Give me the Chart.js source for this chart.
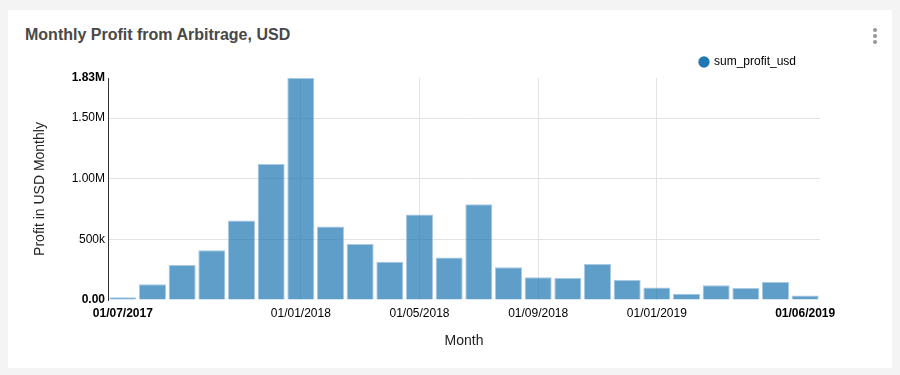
<!DOCTYPE html>
<html>
<head>
<meta charset="utf-8">
<script src="https://cdn.jsdelivr.net/npm/chart.js@4.4.0/dist/chart.umd.min.js"></script>
<style>
  body { margin: 0; background: #f4f4f4; font-family: "Liberation Sans", Arial, sans-serif; }
  #card { position: absolute; left: 8px; top: 10px; width: 884px; height: 358px; background: #fff; }
  #title { position: absolute; left: 25px; top: 26px; font-size: 16px; font-weight: bold; color: #484848; }
  .dot { position: absolute; left: 873px; width: 4px; height: 4px; border-radius: 2px; background: #8f999f; }
  #chart { position: absolute; left: 0; top: 0; }
</style>
</head>
<body>
<div id="card"></div>
<div id="title">Monthly Profit from Arbitrage, USD</div>
<div class="dot" style="top:28px"></div>
<div class="dot" style="top:34px"></div>
<div class="dot" style="top:40px"></div>
<canvas id="chart" width="900" height="375"></canvas>
<script>
// Months shown on the x axis (one bar per month)
const months = [
    '01/07/2017', '01/08/2017', '01/09/2017', '01/10/2017', '01/11/2017', '01/12/2017',
    '01/01/2018', '01/02/2018', '01/03/2018', '01/04/2018', '01/05/2018', '01/06/2018',
    '01/07/2018', '01/08/2018', '01/09/2018', '01/10/2018', '01/11/2018', '01/12/2018',
    '01/01/2019', '01/02/2019', '01/03/2019', '01/04/2019', '01/05/2019', '01/06/2019'
];

// Monthly profit in USD
const profitUsd = [
    22000, 129000, 288000, 410000, 656000, 1122000,
    1830000, 606000, 461000, 315000, 705000, 351000,
    790000, 269000, 187000, 181000, 296000, 165000,
    104000, 52000, 121000, 99000, 148000, 38000
];

// Which month labels get printed, and which get a vertical grid line
const xTickLabels = ['01/07/2017', '01/01/2018', '01/05/2018', '01/09/2018', '01/01/2019', '01/06/2019'];
const xGridLabels = ['01/01/2018', '01/05/2018', '01/09/2018', '01/01/2019'];

// Y ticks; the top tick is the max value
const yMax = Math.max(...profitUsd);
const yTickValues = [0, 500000, 1000000, 1500000, yMax];

function formatY(v) {
    if (v === 0) return '0.00';
    if (v >= 1000000) return (v / 1000000).toFixed(2) + 'M';
    return Math.round(v / 1000) + 'k';
}

const ctx = document.getElementById('chart').getContext('2d');

new Chart(ctx, {
    type: 'bar',
    data: {
        labels: months,
        datasets: [{
            label: 'sum_profit_usd',
            data: profitUsd,
            backgroundColor: 'rgba(31, 119, 180, 0.71)',
            borderColor: 'rgba(170, 202, 228, 1)',
            borderWidth: 1,
            categoryPercentage: 1,
            barPercentage: 0.91
        }]
    },
    options: {
        responsive: false,
        animation: false,
        layout: { padding: { top: 32, right: 80, bottom: 0, left: 0 } },
        plugins: {
            tooltip: { enabled: false },
            legend: {
                position: 'top',
                align: 'end',
                labels: {
                    usePointStyle: true,
                    pointStyle: 'circle',
                    boxWidth: 8,
                    boxHeight: 8,
                    padding: 24,
                    color: '#000',
                    font: { family: 'Liberation Sans', size: 12 },
                    generateLabels: function(chart) {
                        return [{
                            text: 'sum_profit_usd',
                            fillStyle: '#1f77b4',
                            strokeStyle: '#1f77b4',
                            lineWidth: 0,
                            pointStyle: 'circle',
                            datasetIndex: 0
                        }];
                    }
                }
            }
        },
        scales: {
            x: {
                grid: {
                    offset: false,
                    drawTicks: false,
                    color: c => (c.tick && xGridLabels.includes(months[c.index])) ? '#e3e3e3' : 'rgba(0,0,0,0)'
                },
                border: { display: false },
                ticks: {
                    autoSkip: false,
                    maxRotation: 0,
                    padding: 6,
                    color: '#000',
                    font: c => ({
                        family: 'Liberation Sans',
                        size: 12,
                        weight: (c.index === 0 || c.index === months.length - 1) ? 'bold' : 'normal'
                    }),
                    callback: function(value, index) {
                        const label = months[index];
                        return xTickLabels.includes(label) ? label : '';
                    }
                },
                title: {
                    display: true,
                    text: 'Month',
                    color: '#222',
                    font: { family: 'Liberation Sans', size: 14 },
                    padding: { top: 0, bottom: 25 }
                },
                afterFit: function(scale) { scale.height = 75; }
            },
            y: {
                min: 0,
                max: yMax,
                afterBuildTicks: function(scale) {
                    scale.ticks = yTickValues.map(v => ({ value: v }));
                },
                grid: {
                    drawTicks: false,
                    color: c => (c.tick && c.tick.value > 0 && c.tick.value < yMax) ? '#e3e3e3' : 'rgba(0,0,0,0)'
                },
                border: { display: true, color: '#333', width: 1 },
                ticks: {
                    padding: 3,
                    color: '#000',
                    font: c => ({
                        family: 'Liberation Sans',
                        size: 12,
                        weight: (c.tick && (c.tick.value === 0 || c.tick.value === yMax)) ? 'bold' : 'normal'
                    }),
                    callback: v => formatY(v)
                },
                title: {
                    display: true,
                    text: 'Profit in USD Monthly',
                    color: '#222',
                    font: { family: 'Liberation Sans', size: 14 },
                    padding: { top: 32, bottom: 0 }
                },
                afterFit: function(scale) { scale.width = 108; }
            }
        }
    }
});
</script>
</body>
</html>
